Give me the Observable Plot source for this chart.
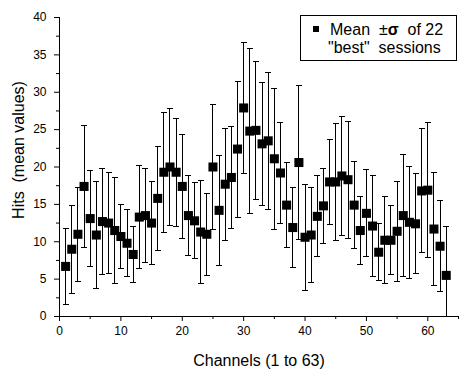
<!DOCTYPE html>
<html>
<head>
<meta charset="utf-8">
<script src="https://cdn.jsdelivr.net/npm/d3@7"></script>
<script src="https://cdn.jsdelivr.net/npm/@observablehq/plot@0.6"></script>
<style>
  html, body { margin: 0; padding: 0; background: #fff; }
  #wrap { position: relative; width: 470px; height: 377px; font-family: "Liberation Sans", Arial, sans-serif; }
  #legend { position: absolute; left: 300px; top: 15px; width: 155px; height: 44px; border: 1px solid #000; background: #fff; font-size: 16px; color: #000; line-height: 18px; }
  #legend .l1 { position: absolute; left: 12px; top: 5px; white-space: pre; }
  #legend .l2 { position: absolute; left: 27px; top: 23px; white-space: pre; }
  #legend .sq { display: inline-block; width: 6px; height: 6px; background: #000; margin-right: 11px; vertical-align: 3px; }
</style>
</head>
<body>
<div id="wrap"></div>
<script>
const channels = d3.range(1, 64);
const means = [6.7, 9.0, 11.0, 17.4, 13.1, 10.9, 12.7, 12.5, 11.5, 10.7,
  9.8, 8.3, 13.3, 13.5, 12.5, 15.8, 19.3, 20.0, 19.3, 17.4,
  13.5, 12.8, 11.3, 11.0, 20.0, 14.2, 17.7, 18.6, 22.4, 27.9,
  24.8, 24.9, 23.1, 23.5, 21.1, 19.2, 14.9, 11.9, 20.6, 10.6,
  10.9, 13.4, 14.8, 18.0, 18.0, 18.8, 18.3, 14.9, 11.5, 13.8,
  12.1, 8.6, 10.2, 10.2, 11.4, 13.5, 12.6, 12.4, 16.8, 16.9,
  11.7, 9.4, 5.5];
const sigmas = [5.1, 5.9, 6.3, 8.2, 6.4, 7.1, 7.1, 6.8, 7.1, 4.3,
  4.5, 3.8, 6.9, 6.3, 5.6, 7.0, 8.0, 7.8, 7.2, 7.0,
  5.3, 5.1, 6.9, 5.5, 8.3, 7.4, 7.5, 6.8, 9.1, 8.8,
  11.0, 9.2, 8.2, 9.2, 9.4, 6.8, 5.7, 5.3, 10.3, 7.1,
  6.4, 5.4, 5.0, 5.7, 7.8, 8.0, 7.8, 5.8, 4.5, 5.8,
  6.8, 3.8, 5.8, 4.6, 6.7, 8.2, 7.5, 6.7, 8.3, 9.0,
  7.6, 6.1, 6.5];
const xMajor = [0, 10, 20, 30, 40, 50, 60];
const xMinor = [5, 15, 25, 35, 45, 55, 65];
const yMajor = [0, 5, 10, 15, 20, 25, 30, 35, 40];
const yMinor = [2.5, 7.5, 12.5, 17.5, 22.5, 27.5, 32.5, 37.5];
const xTitle = "Channels (1 to 63)";
const yTitle = "Hits  (mean values)";

const data = channels.map((c, i) => ({ch: c, mean: means[i], lo: means[i] - sigmas[i], hi: means[i] + sigmas[i]}));

const cap = { draw(ctx) { ctx.moveTo(-3, 0); ctx.lineTo(3, 0); } };

const chart = Plot.plot({
  width: 470,
  height: 377,
  marginLeft: 59,
  marginRight: 12,
  marginTop: 17,
  marginBottom: 61,
  style: { fontFamily: "Liberation Sans, Arial, sans-serif", fontSize: "12px", color: "#000", background: "#fff" },
  x: { domain: [0, 65] },
  y: { domain: [0, 40] },
  marks: [
    Plot.ruleY([0], { x1: 0, x2: 65, stroke: "#000", shapeRendering: "crispEdges" }),
    Plot.ruleX([0], { y1: 0, y2: 40, stroke: "#000", shapeRendering: "crispEdges" }),
    Plot.axisX(xMajor, { tickSize: 5, tickPadding: 5, label: null, fontSize: 12 }),
    Plot.axisX(xMinor, { tickSize: 3, tickFormat: () => "", label: null }),
    Plot.axisY(yMajor, { tickSize: 5, tickPadding: 8, label: null, fontSize: 12 }),
    Plot.axisY(yMinor, { tickSize: 3, tickFormat: () => "", label: null }),
    Plot.ruleX(data, { x: "ch", y1: "lo", y2: "hi", stroke: "#000", strokeWidth: 1, clip: true, shapeRendering: "crispEdges" }),
    Plot.dot(data, { x: "ch", y: "hi", symbol: cap, r: 3, stroke: "#000", strokeWidth: 1, fill: "none", clip: true, shapeRendering: "crispEdges" }),
    Plot.dot(data, { x: "ch", y: "lo", symbol: cap, r: 3, stroke: "#000", strokeWidth: 1, fill: "none", clip: true, shapeRendering: "crispEdges" }),
    Plot.dot(data, { x: "ch", y: "mean", symbol: "square", r: 5.1, fill: "#000", stroke: "none" }),
    Plot.text([xTitle], { text: d => d, frameAnchor: "bottom", lineAnchor: "bottom", dy: 49, fontSize: 16 })
  ]
});

const svg = d3.select(chart);
svg.append("text")
  .attr("transform", "translate(24,150) rotate(-90)")
  .attr("text-anchor", "middle")
  .attr("font-size", 16)
  .attr("fill", "#000")
  .style("white-space", "pre")
  .text(yTitle);

const wrap = document.getElementById("wrap");
wrap.appendChild(chart);
const legend = document.createElement("div");
legend.id = "legend";
legend.innerHTML = '<div class="l1"><span class="sq"></span>Mean  ±<b>σ</b>  of 22</div><div class="l2">"best"  sessions</div>';
wrap.appendChild(legend);
</script>
</body>
</html>
